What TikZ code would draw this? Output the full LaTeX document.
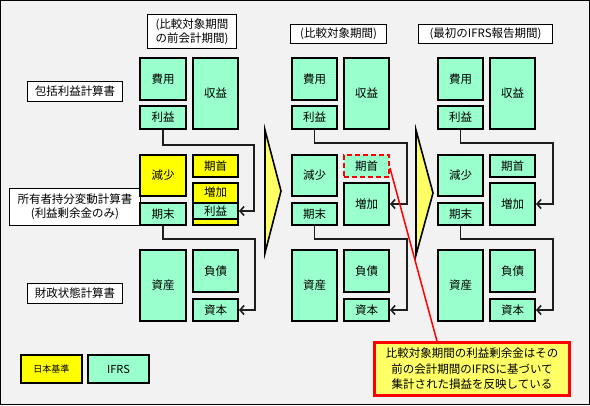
\documentclass[tikz,border=0pt]{standalone}
\usepackage{fontspec}
\setmainfont{Noto Sans CJK JP}
\usetikzlibrary{arrows.meta}
\definecolor{mint}{RGB}{153,255,204}
\definecolor{yel}{RGB}{255,255,0}
\definecolor{lyel}{RGB}{255,255,102}
\definecolor{bgc}{RGB}{242,242,242}
\definecolor{lnc}{RGB}{30,30,30}
\newcommand\mybox[7]{\node[#6, minimum width={#4-#2-2}, minimum height={#5-#3-2}] (#1) at ({(#2+#4)/2},{(#3+#5)/2}) {#7};}
\newcommand\mylbl[7]{\node[#6, minimum width={#4-#2-1}, minimum height={#5-#3-1}] (#1) at ({(#2+#4)/2},{(#3+#5)/2}) {#7};}
\tikzset{
  boxbase/.style={draw=black, line width=2pt, inner sep=0pt, font=\fontsize{11.5}{13}\selectfont},
  gbox/.style={boxbase, fill=mint},
  ybox/.style={boxbase, fill=yel},
  lbl/.style={draw=black, line width=0.8pt, fill=white, inner sep=0pt, align=center, font=\fontsize{11.5}{14}\selectfont},
  txt/.style={inner sep=0pt, font=\fontsize{11.5}{13}\selectfont},
  conn/.style={draw=lnc, line width=1.6pt, -{Straight Barb[length=4pt,width=9pt,line width=1.6pt]}},
  chev/.style={draw=black, line width=1.6pt, fill=lyel, line join=miter},
  redl/.style={draw=red, line width=1.5pt},
}
\begin{document}
\begin{tikzpicture}[x=1pt,y=-1pt]
\useasboundingbox (0,0) rectangle (590,405);
\fill[bgc] (0,0) rectangle (590,405);
\draw[black, line width=1pt] (0.5,0.5) rectangle (589.5,404.5);

% headers and side labels
\mylbl{h1}{147}{14}{237}{49}{lbl}{(比較対象期間\\の前会計期間)}
\mylbl{h2}{290}{24}{387}{44}{lbl}{(比較対象期間)}
\mylbl{h3}{418}{24}{553}{44}{lbl}{(最初のIFRS報告期間)}
\mylbl{l1}{27}{81}{123}{102}{lbl}{包括利益計算書}
\mylbl{l2}{9}{188}{141}{226}{lbl}{所有者持分変動計算書\\(利益剰余金のみ)}
\mylbl{l3}{27}{283}{123}{304}{lbl}{財政状態計算書}

% column 1
\mybox{hiyo1}{139}{57}{187}{101}{gbox}{費用}
\mybox{shueki1}{192}{57}{239}{130}{gbox}{収益}
\mybox{rieki1}{139}{105}{187}{130}{gbox}{利益}
\mybox{gensho1}{139}{154}{187}{197}{ybox}{減少}
\mybox{kishu1}{192}{154}{239}{178}{ybox}{期首}
\mybox{zoka1}{192}{182}{239}{226}{ybox}{}
\mybox{zr1}{192}{202}{239}{220}{gbox}{利益}
\node[txt] (zoka1t) at (215.5,192) {増加};
\mybox{kimatsu1}{139}{202}{187}{226}{gbox}{期末}
\mybox{shisan1}{139}{249}{187}{322}{gbox}{資産}
\mybox{fusai1}{192}{249}{239}{293}{gbox}{負債}
\mybox{shihon1}{192}{298}{239}{322}{gbox}{資本}

% column 2
\mybox{hiyo2}{291}{57}{338}{101}{gbox}{費用}
\mybox{shueki2}{343}{57}{390}{130}{gbox}{収益}
\mybox{rieki2}{291}{105}{338}{130}{gbox}{利益}
\mybox{gensho2}{291}{154}{338}{197}{gbox}{減少}
\mybox{kishu2}{343}{154}{390}{178}{gbox,draw=red,dash pattern=on 5pt off 3pt}{期首}
\mybox{zoka2}{343}{182}{390}{226}{gbox}{増加}
\mybox{kimatsu2}{291}{202}{338}{226}{gbox}{期末}
\mybox{shisan2}{291}{249}{338}{322}{gbox}{資産}
\mybox{fusai2}{343}{249}{390}{293}{gbox}{負債}
\mybox{shihon2}{343}{298}{390}{322}{gbox}{資本}

% column 3
\mybox{hiyo3}{437}{57}{484}{101}{gbox}{費用}
\mybox{shueki3}{489}{57}{536}{130}{gbox}{収益}
\mybox{rieki3}{437}{105}{484}{130}{gbox}{利益}
\mybox{gensho3}{437}{154}{484}{197}{gbox}{減少}
\mybox{kishu3}{489}{154}{536}{178}{gbox}{期首}
\mybox{zoka3}{489}{182}{536}{226}{gbox}{増加}
\mybox{kimatsu3}{437}{202}{484}{226}{gbox}{期末}
\mybox{shisan3}{437}{249}{484}{322}{gbox}{資産}
\mybox{fusai3}{489}{249}{536}{293}{gbox}{負債}
\mybox{shihon3}{489}{298}{536}{322}{gbox}{資本}

% connectors
\draw[conn] (rieki1.south) -- ++(0,15) -| ([xshift=15pt]zr1.east) -- (zr1.east);
\draw[conn] (kimatsu1.south) -- ++(0,13) -| ([xshift=16pt]shihon1.east) -- (shihon1.east);
\draw[conn] (rieki2.south) -- ++(0,13) -| ([xshift=17pt]zoka2.east) -- (zoka2.east);
\draw[conn] (kimatsu2.south) -- ++(0,13) -| ([xshift=17pt]shihon2.east) -- (shihon2.east);
\draw[conn] (rieki3.south) -- ++(0,13) -| ([xshift=17pt]zoka3.east) -- (zoka3.east);
\draw[conn] (kimatsu3.south) -- ++(0,13) -| ([xshift=17pt]shihon3.east) -- (shihon3.east);

% chevrons
\draw[chev] (265,130) -- (281,191) -- (265,253) -- cycle;
\draw[chev] (416,130) -- (433,193) -- (416,255) -- cycle;

% legend
\mybox{legjp}{20}{354}{83}{384}{ybox,font=\fontsize{9}{10}\selectfont}{日本基準}
\mybox{legifrs}{87}{354}{150}{384}{gbox,font=\fontsize{11}{12}\selectfont}{IFRS}

% callout
\node[draw=red, line width=2.5pt, fill=lyel, inner sep=0pt, minimum width=195, minimum height=53, align=center, font=\fontsize{11.5}{15.5}\selectfont] (note) at (472,369) {比較対象期間の利益剰余金はその\\前の会計期間のIFRSに基づいて\\集計された損益を反映している};
\draw[redl] ([yshift=-2pt]kishu2.east) -- ([xshift=-35pt]note.north);
\end{tikzpicture}
\end{document}
